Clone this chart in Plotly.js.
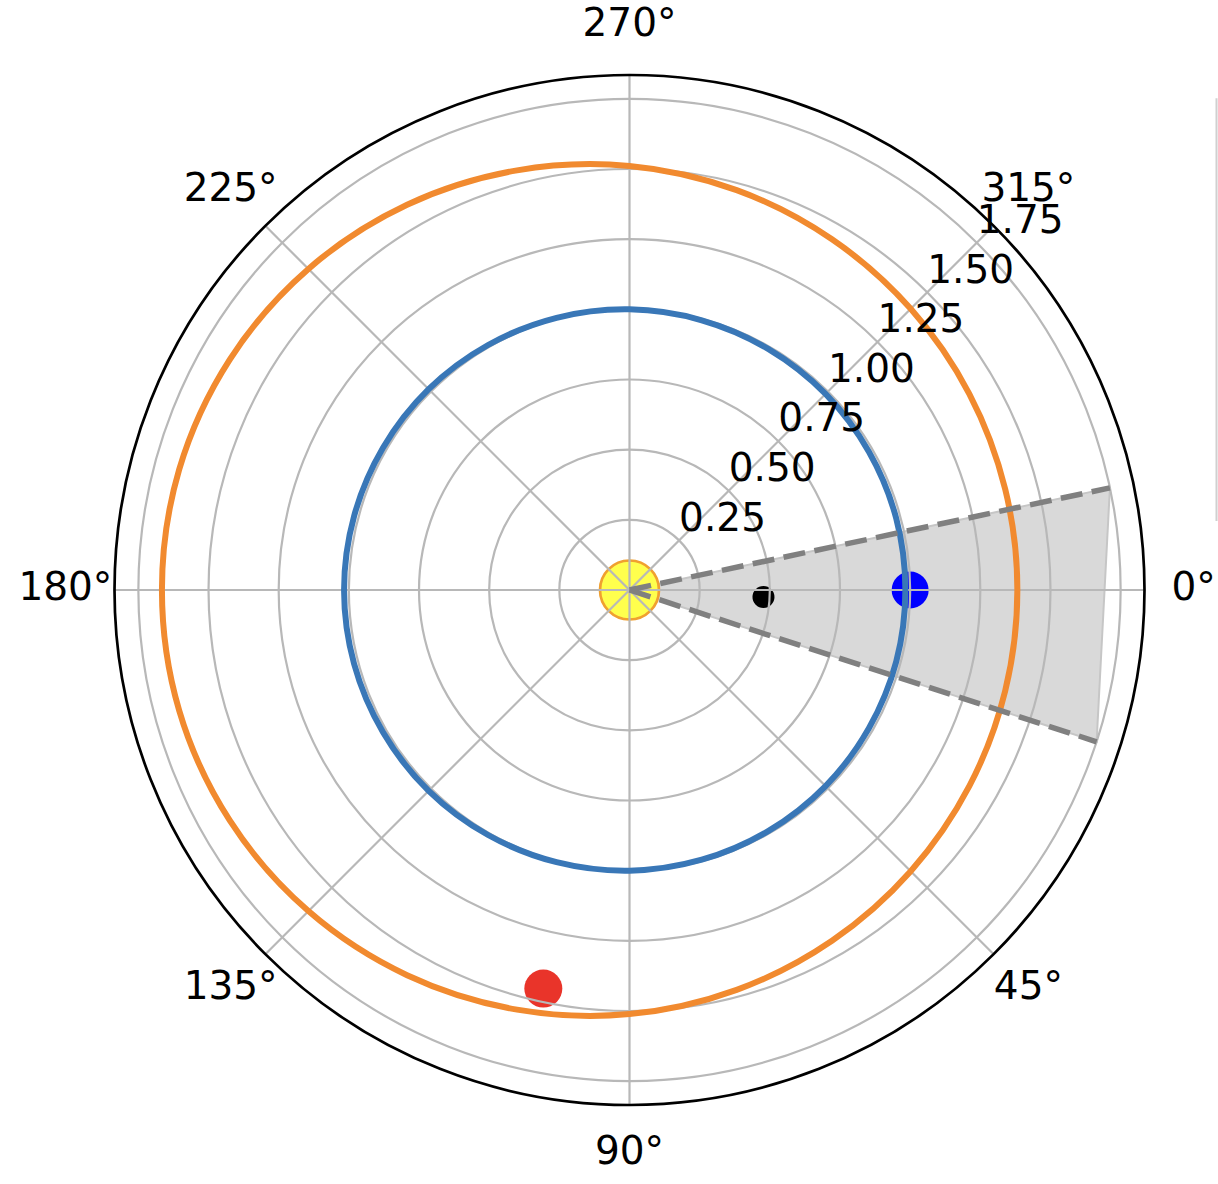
<!DOCTYPE html>
<html>
<head>
<meta charset="utf-8">
<script src="https://cdn.plot.ly/plotly-3.0.1.min.js"></script>
<style>
html, body { margin: 0; padding: 0; background: #ffffff; }
#chart { width: 1218px; height: 1184px; }
</style>
</head>
<body>
<div id="chart"></div>
<script>
// ---- data (r in AU, theta in degrees, clockwise from 0°) ----
const orbitTheta = [0, 15, 30, 45, 60, 75, 90, 105, 120, 135, 150, 165, 180,
                    195, 210, 225, 240, 255, 270, 285, 300, 315, 330, 345, 0];
const earthOrbitR = [0.983, 0.984, 0.985, 0.988, 0.991, 0.995, 1.000, 1.004, 1.008, 1.012, 1.014, 1.016, 1.017,
                     1.016, 1.014, 1.012, 1.008, 1.004, 1.000, 0.995, 0.991, 0.988, 0.985, 0.984, 0.983];
const marsOrbitR = [1.382, 1.386, 1.398, 1.417, 1.443, 1.475, 1.511, 1.548, 1.585, 1.618, 1.644, 1.661, 1.666,
                    1.661, 1.644, 1.618, 1.585, 1.548, 1.511, 1.475, 1.443, 1.417, 1.398, 1.386, 1.382];

const bodyNames = ['Sun', 'Probe', 'Earth', 'Mars'];
const bodyR = [0, 0.478, 1.0, 1.453];
const bodyTheta = [0, 3, 0, 102.2];

const wedgeR = [0, 1.75, 1.75, 0];
const wedgeTheta = [0, 348, 18, 0];

const radialTicks = [0.25, 0.50, 0.75, 1.00, 1.25, 1.50, 1.75];
const radialTickText = ['0.25', '0.50', '0.75', '1.00', '1.25', '1.50', '1.75'];
const radialLabelAngle = 315;
const angularTicks = [0, 45, 90, 135, 180, 225, 270, 315];
const angularTickText = ['0°', '45°', '90°', '135°', '180°', '225°', '270°', '315°'];

const rMax = 1.835;
const angularLabelR = 2.01;   // label ring just outside the frame (layout constant)

// ---- geometry / styles ----
const FONT = 'DejaVu Sans, Liberation Sans, sans-serif';
const FS = 39;
const W = 1218, H = 1184;
const CX = 629.5, CY = 590, RPX = 515;        // frame centre and radius in px
const RPX_LABEL = 570;                         // outer label subplot radius in px
const rMaxLabel = rMax * RPX_LABEL / RPX;      // same r-scale as the main plot

const bodyStyle = [
  { size: 59, color: '#ffff4d', line: { color: '#f0a030', width: 2.7 } },
  { size: 22, color: '#000000', line: { width: 0 } },
  { size: 37, color: '#0000ff', line: { width: 0 } },
  { size: 38, color: '#e9342a', line: { width: 0 } }
];

const traces = [];

// lower layer (below the grid): wedge fill and body markers
traces.push({
  type: 'scatterpolar', subplot: 'polar',
  r: wedgeR, theta: wedgeTheta, mode: 'lines', fill: 'toself',
  fillcolor: '#d9d9d9', line: { color: '#c6c6c6', width: 2 },
  hoverinfo: 'skip', showlegend: false
});
for (let i = 0; i < bodyNames.length; i++) {
  traces.push({
    type: 'scatterpolar', subplot: 'polar', name: bodyNames[i],
    r: [bodyR[i]], theta: [bodyTheta[i]], mode: 'markers',
    marker: bodyStyle[i], cliponaxis: false, showlegend: false
  });
}

// upper layer (above the grid): orbits and dashed field-of-view lines
traces.push({
  type: 'scatterpolar', subplot: 'polar2', name: 'Earth orbit',
  r: earthOrbitR, theta: orbitTheta, mode: 'lines',
  line: { color: '#3977b7', width: 6, shape: 'spline', smoothing: 1 }, showlegend: false
});
traces.push({
  type: 'scatterpolar', subplot: 'polar2', name: 'Mars orbit',
  r: marsOrbitR, theta: orbitTheta, mode: 'lines',
  line: { color: '#f18a2f', width: 6, shape: 'spline', smoothing: 1 }, showlegend: false
});
[1, 2].forEach(function (k) {
  traces.push({
    type: 'scatterpolar', subplot: 'polar2',
    r: [wedgeR[0], wedgeR[k]], theta: [wedgeTheta[k], wedgeTheta[k]], mode: 'lines',
    line: { color: '#808080', width: 5.5, dash: '22px,9.5px' }, showlegend: false, hoverinfo: 'skip'
  });
});

// radial tick labels along the 315° spoke
traces.push({
  type: 'scatterpolar', subplot: 'polar2', name: 'radial tick labels',
  r: radialTicks, theta: radialTicks.map(function () { return radialLabelAngle; }),
  text: radialTickText, mode: 'text', textposition: 'top right',
  textfont: { family: FONT, size: FS, color: '#000000' },
  cliponaxis: false, showlegend: false, hoverinfo: 'skip'
});
// angular tick labels on a ring outside the frame (same r-scale, larger subplot)
traces.push({
  type: 'scatterpolar', subplot: 'polar3', name: 'angular tick labels',
  r: angularTicks.map(function () { return angularLabelR; }), theta: angularTicks,
  text: angularTickText, mode: 'text', textposition: 'middle center',
  textfont: { family: FONT, size: FS, color: '#000000' },
  cliponaxis: false, showlegend: false, hoverinfo: 'skip'
});

function dom(rpx) {
  return {
    x: [(CX - rpx) / W, (CX + rpx) / W],
    y: [1 - (CY + rpx) / H, 1 - (CY - rpx) / H]
  };
}
const GRID = '#b8b8b8';
const hiddenRadial = function (range) {
  return { range: range, showgrid: false, showline: false, showticklabels: false, ticks: '' };
};
const hiddenAngular = { direction: 'clockwise', rotation: 0, showgrid: false, showline: false,
                        showticklabels: false, ticks: '' };

const layout = {
  width: W, height: H,
  margin: { l: 0, r: 0, t: 0, b: 0, autoexpand: false },
  paper_bgcolor: '#ffffff',
  font: { family: FONT, size: FS, color: '#000000' },
  showlegend: false,
  polar: {
    domain: dom(RPX), bgcolor: '#ffffff',
    radialaxis: hiddenRadial([0, rMax]),
    angularaxis: hiddenAngular
  },
  polar2: {
    domain: dom(RPX), bgcolor: 'rgba(0,0,0,0)',
    radialaxis: {
      range: [0, rMax], angle: 45, tickmode: 'array', tickvals: radialTicks, ticktext: radialTickText,
      showline: false, ticks: '', showticklabels: false, gridcolor: GRID, gridwidth: 2.2
    },
    angularaxis: {
      direction: 'clockwise', rotation: 0, tickmode: 'array',
      tickvals: angularTicks, ticktext: angularTickText, showticklabels: false,
      showline: true, linecolor: '#000000', linewidth: 2.7,
      gridcolor: GRID, gridwidth: 2.2, ticks: ''
    }
  },
  polar3: {
    domain: dom(RPX_LABEL), bgcolor: 'rgba(0,0,0,0)',
    radialaxis: hiddenRadial([0, rMaxLabel]),
    angularaxis: hiddenAngular
  },
  shapes: [
    { type: 'line', xref: 'paper', yref: 'paper', x0: 0.99877, x1: 0.99877, y0: 0.56, y1: 0.917,
      line: { color: '#d0d0d0', width: 2 } }
  ]
};

Plotly.newPlot('chart', traces, layout, { staticPlot: true, displayModeBar: false });
</script>
</body>
</html>
